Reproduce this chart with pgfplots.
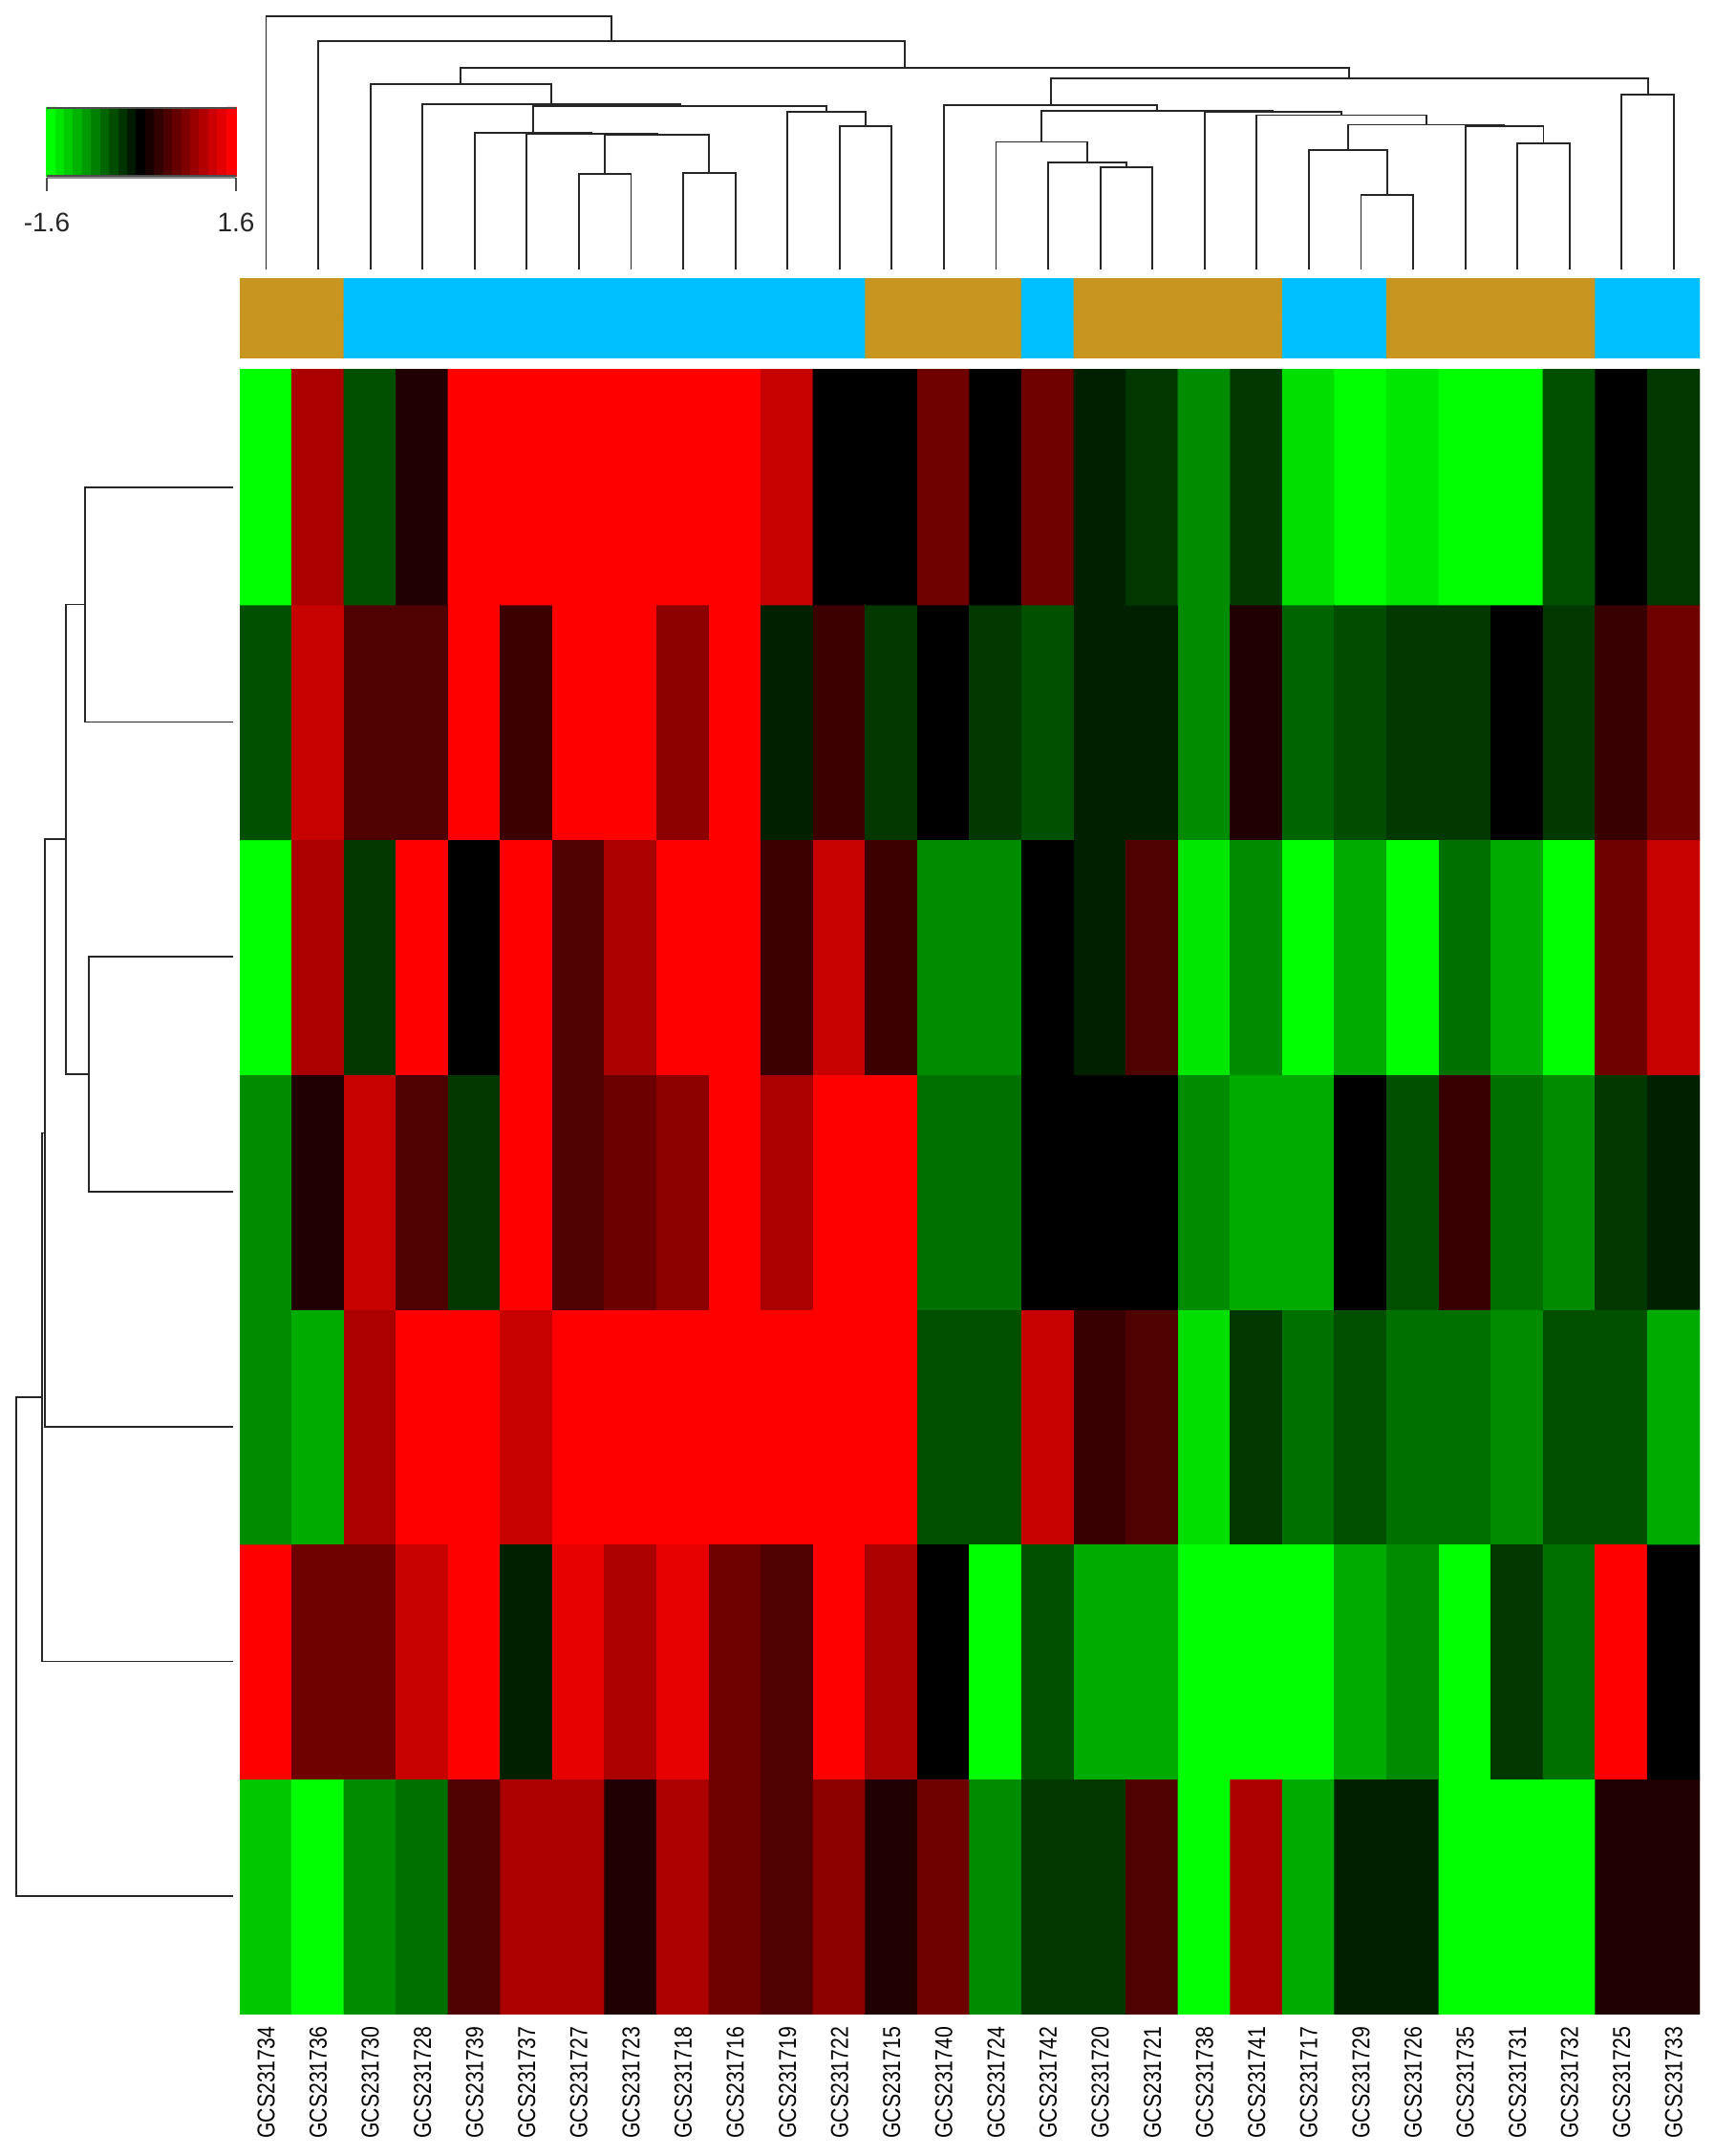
\documentclass[border=0pt]{standalone}
\usepackage{pgfplots}
\pgfplotsset{compat=1.18}
\usepackage{fontspec}
\setmainfont{Liberation Sans}
\newfontfamily\condfont[FakeStretch=0.83]{Liberation Sans}
\pgfplotsset{dendro/.style={black!85, line width=0.45pt, mark=none, line join=miter}}
\begin{document}
\begin{tikzpicture}
\useasboundingbox (0,0) rectangle (448.75pt,-564pt);

% ---------- heatmap ----------
\begin{axis}[scale only axis, at={(62.8pt,-96.7pt)}, anchor=north west,
  width=382pt, height=430.1pt,
  xmin=0.5, xmax=28.5, ymin=0.5, ymax=7.5, enlargelimits=false,
  axis line style={draw=none}, major tick length=0pt, ytick=\empty,
  xtick={1,...,28},
  xticklabels={GCS231734,GCS231736,GCS231730,GCS231728,GCS231739,GCS231737,GCS231727,GCS231723,GCS231718,GCS231716,GCS231719,GCS231722,GCS231715,GCS231740,GCS231724,GCS231742,GCS231720,GCS231721,GCS231738,GCS231741,GCS231717,GCS231729,GCS231726,GCS231735,GCS231731,GCS231732,GCS231725,GCS231733},
  xticklabel style={rotate=90, anchor=east, font=\condfont\fontsize{6.4}{7}\selectfont, inner sep=0pt, text=black},
  xticklabel shift=3.2pt,
  colormap={rg}{rgb255=(0,255,0) rgb255=(0,0,0) rgb255=(255,0,0)},
  point meta min=-1.6, point meta max=1.6]
\addplot[matrix plot*, mesh/cols=28, point meta=explicit] coordinates {
(1,1) [-1.25] (2,1) [-1.6] (3,1) [-0.88] (4,1) [-0.7] (5,1) [0.5] (6,1) [1.07] (7,1) [1.07] (8,1) [0.2] (9,1) [1.07] (10,1) [0.7] (11,1) [0.5] (12,1) [0.88] (13,1) [0.2] (14,1) [0.7] (15,1) [-0.88] (16,1) [-0.35] (17,1) [-0.35] (18,1) [0.5] (19,1) [-1.6] (20,1) [1.07] (21,1) [-1.07] (22,1) [-0.2] (23,1) [-0.2] (24,1) [-1.6] (25,1) [-1.6] (26,1) [-1.6] (27,1) [0.2] (28,1) [0.2]

(1,2) [1.6] (2,2) [0.7] (3,2) [0.7] (4,2) [1.25] (5,2) [1.6] (6,2) [-0.2] (7,2) [1.45] (8,2) [1.07] (9,2) [1.45] (10,2) [0.7] (11,2) [0.5] (12,2) [1.6] (13,2) [1.07] (14,2) [0] (15,2) [-1.6] (16,2) [-0.5] (17,2) [-1.07] (18,2) [-1.07] (19,2) [-1.6] (20,2) [-1.6] (21,2) [-1.6] (22,2) [-1.07] (23,2) [-0.88] (24,2) [-1.6] (25,2) [-0.35] (26,2) [-0.7] (27,2) [1.6] (28,2) [0]

(1,3) [-0.88] (2,3) [-1.07] (3,3) [1.07] (4,3) [1.6] (5,3) [1.6] (6,3) [1.25] (7,3) [1.6] (8,3) [1.6] (9,3) [1.6] (10,3) [1.6] (11,3) [1.6] (12,3) [1.6] (13,3) [1.6] (14,3) [-0.5] (15,3) [-0.5] (16,3) [1.25] (17,3) [0.35] (18,3) [0.5] (19,3) [-1.4] (20,3) [-0.35] (21,3) [-0.7] (22,3) [-0.5] (23,3) [-0.7] (24,3) [-0.7] (25,3) [-0.88] (26,3) [-0.5] (27,3) [-0.5] (28,3) [-1.07]

(1,4) [-0.88] (2,4) [0.2] (3,4) [1.25] (4,4) [0.5] (5,4) [-0.35] (6,4) [1.6] (7,4) [0.5] (8,4) [0.68] (9,4) [0.88] (10,4) [1.6] (11,4) [1.07] (12,4) [1.6] (13,4) [1.6] (14,4) [-0.7] (15,4) [-0.7] (16,4) [0] (17,4) [0] (18,4) [0] (19,4) [-0.88] (20,4) [-1.07] (21,4) [-1.07] (22,4) [0] (23,4) [-0.5] (24,4) [0.35] (25,4) [-0.7] (26,4) [-0.88] (27,4) [-0.35] (28,4) [-0.2]

(1,5) [-1.6] (2,5) [1.07] (3,5) [-0.35] (4,5) [1.6] (5,5) [0] (6,5) [1.6] (7,5) [0.5] (8,5) [1.07] (9,5) [1.6] (10,5) [1.6] (11,5) [0.38] (12,5) [1.25] (13,5) [0.38] (14,5) [-0.88] (15,5) [-0.88] (16,5) [0] (17,5) [-0.2] (18,5) [0.5] (19,5) [-1.45] (20,5) [-0.88] (21,5) [-1.6] (22,5) [-1.07] (23,5) [-1.6] (24,5) [-0.7] (25,5) [-1.07] (26,5) [-1.6] (27,5) [0.7] (28,5) [1.25]

(1,6) [-0.5] (2,6) [1.25] (3,6) [0.5] (4,6) [0.5] (5,6) [1.6] (6,6) [0.38] (7,6) [1.6] (8,6) [1.6] (9,6) [0.88] (10,6) [1.6] (11,6) [-0.2] (12,6) [0.38] (13,6) [-0.35] (14,6) [0] (15,6) [-0.35] (16,6) [-0.5] (17,6) [-0.2] (18,6) [-0.2] (19,6) [-0.88] (20,6) [0.2] (21,6) [-0.63] (22,6) [-0.48] (23,6) [-0.35] (24,6) [-0.35] (25,6) [0] (26,6) [-0.35] (27,6) [0.35] (28,6) [0.7]

(1,7) [-1.6] (2,7) [1.07] (3,7) [-0.5] (4,7) [0.2] (5,7) [1.6] (6,7) [1.6] (7,7) [1.6] (8,7) [1.6] (9,7) [1.6] (10,7) [1.6] (11,7) [1.25] (12,7) [0] (13,7) [0] (14,7) [0.7] (15,7) [0] (16,7) [0.7] (17,7) [-0.2] (18,7) [-0.35] (19,7) [-0.88] (20,7) [-0.35] (21,7) [-1.4] (22,7) [-1.6] (23,7) [-1.45] (24,7) [-1.6] (25,7) [-1.6] (26,7) [-0.5] (27,7) [0] (28,7) [-0.35]
};
\end{axis}

% ---------- group colour bar ----------
\begin{axis}[scale only axis, at={(62.8pt,-72.9pt)}, anchor=north west,
  width=382pt, height=20.85pt, hide axis,
  xmin=0.5, xmax=28.5, ymin=0.5, ymax=2.5, enlargelimits=false,
  colormap={grp}{rgb255=(200,150,30) rgb255=(0,191,255)},
  colormap access=piecewise constant,
  point meta min=0, point meta max=1]
\addplot[matrix plot*, mesh/cols=28, point meta=explicit] coordinates {
(1,1) [0] (2,1) [0] (3,1) [1] (4,1) [1] (5,1) [1] (6,1) [1] (7,1) [1] (8,1) [1] (9,1) [1] (10,1) [1] (11,1) [1] (12,1) [1] (13,1) [0] (14,1) [0] (15,1) [0] (16,1) [1] (17,1) [0] (18,1) [0] (19,1) [0] (20,1) [0] (21,1) [1] (22,1) [1] (23,1) [0] (24,1) [0] (25,1) [0] (26,1) [0] (27,1) [1] (28,1) [1]

(1,2) [0] (2,2) [0] (3,2) [1] (4,2) [1] (5,2) [1] (6,2) [1] (7,2) [1] (8,2) [1] (9,2) [1] (10,2) [1] (11,2) [1] (12,2) [1] (13,2) [0] (14,2) [0] (15,2) [0] (16,2) [1] (17,2) [0] (18,2) [0] (19,2) [0] (20,2) [0] (21,2) [1] (22,2) [1] (23,2) [0] (24,2) [0] (25,2) [0] (26,2) [0] (27,2) [1] (28,2) [1]
};
\end{axis}

% ---------- column dendrogram ----------
\begin{axis}[scale only axis, at={(62.8pt,-70.4pt)}, anchor=south west,
  width=382pt, height=66.15pt, hide axis, clip=false,
  xmin=0.5, xmax=28.5, ymin=0, ymax=805, enlargelimits=false]
\addplot[dendro] coordinates {(7,0)(7,302)(8,302)(8,0)};
\addplot[dendro] coordinates {(9,0)(9,305)(10,305)(10,0)};
\addplot[dendro] coordinates {(7.5,302)(7.5,427)(9.5,427)(9.5,305)};
\addplot[dendro] coordinates {(6,0)(6,432)(8.5,432)(8.5,427)};
\addplot[dendro] coordinates {(5,0)(5,435)(7.25,435)(7.25,432)};
\addplot[dendro] coordinates {(12,0)(12,455)(13,455)(13,0)};
\addplot[dendro] coordinates {(11,0)(11,500)(12.5,500)(12.5,455)};
\addplot[dendro] coordinates {(6.125,435)(6.125,520)(11.75,520)(11.75,500)};
\addplot[dendro] coordinates {(4,0)(4,525)(8.9375,525)(8.9375,520)};
\addplot[dendro] coordinates {(3,0)(3,588)(6.46875,588)(6.46875,525)};
\addplot[dendro] coordinates {(17,0)(17,325)(18,325)(18,0)};
\addplot[dendro] coordinates {(16,0)(16,340)(17.5,340)(17.5,325)};
\addplot[dendro] coordinates {(15,0)(15,405)(16.75,405)(16.75,340)};
\addplot[dendro] coordinates {(22,0)(22,235)(23,235)(23,0)};
\addplot[dendro] coordinates {(21,0)(21,380)(22.5,380)(22.5,235)};
\addplot[dendro] coordinates {(25,0)(25,400)(26,400)(26,0)};
\addplot[dendro] coordinates {(24,0)(24,455)(25.5,455)(25.5,400)};
\addplot[dendro] coordinates {(21.75,380)(21.75,460)(24.75,460)(24.75,455)};
\addplot[dendro] coordinates {(20,0)(20,490)(23.25,490)(23.25,460)};
\addplot[dendro] coordinates {(19,0)(19,500)(21.625,500)(21.625,490)};
\addplot[dendro] coordinates {(15.875,405)(15.875,505)(20.3125,505)(20.3125,500)};
\addplot[dendro] coordinates {(14,0)(14,522)(18.09375,522)(18.09375,505)};
\addplot[dendro] coordinates {(27,0)(27,555)(28,555)(28,0)};
\addplot[dendro] coordinates {(16.046875,522)(16.046875,608)(27.5,608)(27.5,555)};
\addplot[dendro] coordinates {(4.734375,588)(4.734375,640)(21.7734,640)(21.7734,608)};
\addplot[dendro] coordinates {(2,0)(2,725)(13.2539,725)(13.2539,640)};
\addplot[dendro] coordinates {(1,0)(1,805)(7.627,805)(7.627,725)};
\end{axis}

% ---------- row dendrogram ----------
\begin{axis}[scale only axis, at={(61.1pt,-96.7pt)}, anchor=north east,
  width=56.9pt, height=430.1pt, hide axis, clip=false,
  x dir=reverse, xmin=0, xmax=158, ymin=0.5, ymax=7.5, enlargelimits=false]
\addplot[dendro] coordinates {(0,7)(108,7)(108,6)(0,6)};
\addplot[dendro] coordinates {(0,5)(105,5)(105,4)(0,4)};
\addplot[dendro] coordinates {(108,6.5)(122,6.5)(122,4.5)(105,4.5)};
\addplot[dendro] coordinates {(122,5.5)(137,5.5)(137,3)(0,3)};
\addplot[dendro] coordinates {(137,4.25)(139,4.25)(139,2)(0,2)};
\addplot[dendro] coordinates {(139,3.125)(158,3.125)(158,1)(0,1)};
\end{axis}

% ---------- colour key ----------
\begin{axis}[scale only axis, at={(12.25pt,-28.2pt)}, anchor=north west,
  width=49.5pt, height=17.8pt, hide axis, clip=false,
  xmin=0.5, xmax=21.5, ymin=0.5, ymax=2.5, enlargelimits=false,
  colormap={rg}{rgb255=(0,255,0) rgb255=(0,0,0) rgb255=(255,0,0)},
  point meta min=-1.6, point meta max=1.6]
\addplot[matrix plot*, mesh/cols=21, point meta=explicit] coordinates {
(1,1) [-1.6] (2,1) [-1.44] (3,1) [-1.28] (4,1) [-1.12] (5,1) [-0.96] (6,1) [-0.8] (7,1) [-0.64] (8,1) [-0.48] (9,1) [-0.32] (10,1) [-0.16] (11,1) [0] (12,1) [0.16] (13,1) [0.32] (14,1) [0.48] (15,1) [0.64] (16,1) [0.8] (17,1) [0.96] (18,1) [1.12] (19,1) [1.28] (20,1) [1.44] (21,1) [1.6]

(1,2) [-1.6] (2,2) [-1.44] (3,2) [-1.28] (4,2) [-1.12] (5,2) [-0.96] (6,2) [-0.8] (7,2) [-0.64] (8,2) [-0.48] (9,2) [-0.32] (10,2) [-0.16] (11,2) [0] (12,2) [0.16] (13,2) [0.32] (14,2) [0.48] (15,2) [0.64] (16,2) [0.8] (17,2) [0.96] (18,2) [1.12] (19,2) [1.28] (20,2) [1.44] (21,2) [1.6]
};
\addplot[black!70, line width=0.6pt] coordinates {(0.5,2.5)(21.5,2.5)};
\addplot[black!70, line width=0.6pt] coordinates {(0.5,0.5)(21.5,0.5)};
\addplot[black!45, line width=0.4pt] coordinates {(0.5,0.44)(21.5,0.44)};
\addplot[black!70, line width=0.4pt] coordinates {(0.5,0.44)(0.5,0.05)};
\addplot[black!70, line width=0.4pt] coordinates {(21.5,0.44)(21.5,0.05)};
\node[font=\fontsize{7}{8}\selectfont, text=black!85] at (axis cs:0.5,-0.87) {-1.6};
\node[font=\fontsize{7}{8}\selectfont, text=black!85] at (axis cs:21.5,-0.87) {1.6};
\end{axis}
\end{tikzpicture}
\end{document}
